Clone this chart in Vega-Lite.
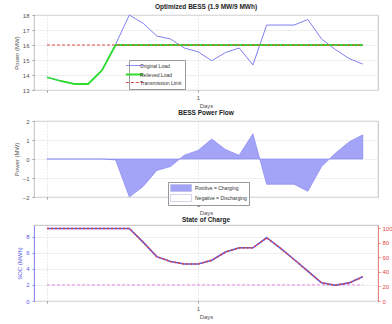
{
  "$schema": "https://vega.github.io/schema/vega-lite/v6.json",
  "background": "white",
  "padding": {"left": 12, "top": 3, "right": 0, "bottom": 0},
  "spacing": 0,
  "resolve": {"scale": {"color": "independent"}, "legend": {"color": "independent"}},
  "config": {
    "font": "Liberation Sans",
    "view": {"stroke": "#b0b0b0", "strokeWidth": 0.8},
    "axis": {
      "labelFontSize": 6, "titleFontSize": 6, "titleFontWeight": "normal",
      "labelColor": "#555555", "titleColor": "#555555", "tickColor": "#999999",
      "domain": false, "tickSize": 2, "labelPadding": 2, "titlePadding": 2,
      "labelOverlap": false, "labelBound": false, "labelFlush": false,
      "gridColor": "#e4e4e4", "gridWidth": 0.6
    },
    "axisY": {"labelPadding": 3, "titlePadding": 3},
    "title": {"fontSize": 6.5, "fontWeight": "bold", "color": "#222222", "offset": 2},
    "legend": {
      "title": null, "orient": "none", "labelFontSize": 5, "labelColor": "#333333",
      "padding": 3, "rowPadding": 1, "strokeColor": "#999999", "fillColor": "white",
      "labelOffset": 3, "symbolSize": 300, "symbolStrokeWidth": 1
    }
  },
  "datasets": {
    "hourly": [
      {"hour": 0, "original": 13.85, "relieved": 13.85, "limit": 16, "power": 0, "soc": 9, "socPct": 100, "socMin": 2},
      {"hour": 1, "original": 13.6, "relieved": 13.6, "limit": 16, "power": 0, "soc": 9, "socPct": 100, "socMin": 2},
      {"hour": 2, "original": 13.4, "relieved": 13.4, "limit": 16, "power": 0, "soc": 9, "socPct": 100, "socMin": 2},
      {"hour": 3, "original": 13.4, "relieved": 13.4, "limit": 16, "power": 0, "soc": 9, "socPct": 100, "socMin": 2},
      {"hour": 4, "original": 14.3, "relieved": 14.3, "limit": 16, "power": 0, "soc": 9, "socPct": 100, "socMin": 2},
      {"hour": 5, "original": 16.05, "relieved": 16, "limit": 16, "power": -0.05, "soc": 9, "socPct": 100, "socMin": 2},
      {"hour": 6, "original": 18.0, "relieved": 16, "limit": 16, "power": -2.0, "soc": 9, "socPct": 100, "socMin": 2},
      {"hour": 7, "original": 17.45, "relieved": 16, "limit": 16, "power": -1.45, "soc": 7.3, "socPct": 81.1, "socMin": 2},
      {"hour": 8, "original": 16.6, "relieved": 16, "limit": 16, "power": -0.6, "soc": 5.5, "socPct": 61.1, "socMin": 2},
      {"hour": 9, "original": 16.4, "relieved": 16, "limit": 16, "power": -0.4, "soc": 4.9, "socPct": 54.4, "socMin": 2},
      {"hour": 10, "original": 15.8, "relieved": 16, "limit": 16, "power": 0.2, "soc": 4.6, "socPct": 51.1, "socMin": 2},
      {"hour": 11, "original": 15.55, "relieved": 16, "limit": 16, "power": 0.45, "soc": 4.6, "socPct": 51.1, "socMin": 2},
      {"hour": 12, "original": 14.95, "relieved": 16, "limit": 16, "power": 1.05, "soc": 5.05, "socPct": 56.1, "socMin": 2},
      {"hour": 13, "original": 15.5, "relieved": 16, "limit": 16, "power": 0.5, "soc": 6.07, "socPct": 67.4, "socMin": 2},
      {"hour": 14, "original": 15.8, "relieved": 16, "limit": 16, "power": 0.2, "soc": 6.6, "socPct": 73.3, "socMin": 2},
      {"hour": 15, "original": 14.67, "relieved": 16, "limit": 16, "power": 1.33, "soc": 6.6, "socPct": 73.3, "socMin": 2},
      {"hour": 16, "original": 17.33, "relieved": 16, "limit": 16, "power": -1.33, "soc": 7.85, "socPct": 87.2, "socMin": 2},
      {"hour": 17, "original": 17.33, "relieved": 16, "limit": 16, "power": -1.33, "soc": 6.55, "socPct": 72.8, "socMin": 2},
      {"hour": 18, "original": 17.33, "relieved": 16, "limit": 16, "power": -1.33, "soc": 5.15, "socPct": 57.2, "socMin": 2},
      {"hour": 19, "original": 17.7, "relieved": 16, "limit": 16, "power": -1.7, "soc": 3.7, "socPct": 41.1, "socMin": 2},
      {"hour": 20, "original": 16.4, "relieved": 16, "limit": 16, "power": -0.4, "soc": 2.25, "socPct": 25.0, "socMin": 2},
      {"hour": 21, "original": 15.7, "relieved": 16, "limit": 16, "power": 0.3, "soc": 1.95, "socPct": 21.7, "socMin": 2},
      {"hour": 22, "original": 15.1, "relieved": 16, "limit": 16, "power": 0.9, "soc": 2.25, "socPct": 25.0, "socMin": 2},
      {"hour": 23, "original": 14.73, "relieved": 16, "limit": 16, "power": 1.27, "soc": 3.0, "socPct": 33.3, "socMin": 2}
    ]
  },
  "vconcat": [
    {
      "title": "Optimized BESS (1.9 MW/9 MWh)",
      "width": 344,
      "height": 75,
      "data": {"name": "hourly"},
      "encoding": {
        "x": {
          "field": "hour", "type": "quantitative",
          "scale": {"domain": [-0.944, 24.11], "nice": false, "zero": false},
          "axis": {"values": [0, 11], "tickCount": 10, "labelExpr": "datum.value == 11 ? '1' : ''", "title": "Days", "gridDash": [1, 2], "gridColor": "#bbbbbb"}
        }
      },
      "layer": [
        {
          "mark": {"type": "line", "strokeWidth": 1},
          "encoding": {
            "y": {
              "field": "original", "type": "quantitative",
              "scale": {"domain": [13, 18], "nice": false, "zero": false},
              "axis": {"values": [13, 14, 15, 16, 17, 18], "tickCount": 10, "format": "d", "title": "Power (MW)"}
            },
            "color": {
              "datum": "Original Load",
              "scale": {"domain": ["Original Load", "Relieved Load", "Transmission Limit"], "range": ["#7f7ff2", "#2fdc2f", "#e24a4a"]},
              "legend": {
                "legendX": 95, "legendY": 45, "symbolType": "stroke",
                "encode": {
                  "symbols": {
                    "update": {
                      "strokeDash": {"signal": "datum.value === 'Transmission Limit' ? [3, 2] : [1, 0]"},
                      "strokeWidth": {"signal": "datum.value === 'Relieved Load' ? 1.8 : 1"}
                    }
                  }
                }
              }
            }
          }
        },
        {
          "mark": {"type": "line", "strokeWidth": 1.8},
          "encoding": {
            "y": {"field": "relieved", "type": "quantitative"},
            "color": {"datum": "Relieved Load"}
          }
        },
        {
          "mark": {"type": "line", "strokeWidth": 1.2, "strokeDash": [3, 2]},
          "encoding": {
            "y": {"field": "limit", "type": "quantitative"},
            "color": {"datum": "Transmission Limit"}
          }
        }
      ]
    },
    {
      "title": "BESS Power Flow",
      "width": 344,
      "height": 76,
      "data": {"name": "hourly"},
      "encoding": {
        "x": {
          "field": "hour", "type": "quantitative",
          "scale": {"domain": [-0.944, 24.11], "nice": false, "zero": false},
          "axis": {"values": [0, 11], "tickCount": 10, "labelExpr": "datum.value == 11 ? '1' : ''", "title": "Days", "gridDash": [1, 2], "gridColor": "#bbbbbb"}
        }
      },
      "layer": [
        {
          "mark": {"type": "area", "opacity": 1, "stroke": "#7c7cf0", "strokeWidth": 0.6},
          "encoding": {
            "y": {
              "field": "power", "type": "quantitative",
              "scale": {"domain": [-2, 2], "nice": false},
              "axis": {"values": [-2, -1, 0, 1, 2], "tickCount": 10, "format": "d", "title": "Power (MW)"}
            },
            "color": {
              "datum": "Positive = Charging",
              "scale": {"domain": ["Positive = Charging", "Negative = Discharging"], "range": ["#a3a3f7", "#ffffff"]},
              "legend": {
                "legendX": 134, "legendY": 61, "symbolSize": 49,
                "symbolType": "M-1,-1H5V1H-1Z", "labelOffset": 17, "rowPadding": 0, "padding": 2,
                "symbolStrokeWidth": 0.6, "symbolStrokeColor": "#b8b8e0"
              }
            }
          }
        },
        {
          "mark": {"type": "rule", "strokeWidth": 0.8, "color": "#9a9ac8"},
          "encoding": {
            "y": {"datum": 0}
          }
        }
      ]
    },
    {
      "title": "State of Charge",
      "width": 344,
      "height": 76,
      "data": {"name": "hourly"},
      "encoding": {
        "x": {
          "field": "hour", "type": "quantitative",
          "scale": {"domain": [-0.944, 24.11], "nice": false, "zero": false},
          "axis": {"values": [0, 11], "tickCount": 10, "labelExpr": "datum.value == 11 ? '1' : ''", "title": "Days", "gridDash": [1, 2], "gridColor": "#bbbbbb"}
        }
      },
      "layer": [
        {
          "layer": [
            {
              "mark": {"type": "line", "color": "#e68ae6", "strokeDash": [3, 2], "strokeWidth": 1},
              "encoding": {
                "y": {
                  "field": "socMin", "type": "quantitative",
                  "scale": {"domain": [0, 9.43], "nice": false},
                  "axis": {
                    "values": [0, 2, 4, 6, 8], "tickCount": 10, "title": "SOC (MWh)",
                    "labelColor": "#5a5ae8", "titleColor": "#5a5ae8",
                    "domain": true, "domainColor": "#8a8af0", "tickColor": "#8a8af0"
                  }
                }
              }
            },
            {
              "mark": {"type": "line", "color": "#5a5ae8", "strokeWidth": 1.6},
              "encoding": {"y": {"field": "soc", "type": "quantitative"}}
            }
          ]
        },
        {
          "mark": {"type": "line", "color": "#e04848", "strokeDash": [2, 2], "strokeWidth": 1.6},
          "encoding": {
            "y": {
              "field": "socPct", "type": "quantitative",
              "scale": {"domain": [0, 104.8], "nice": false},
              "axis": {
                "orient": "right", "values": [0, 20, 40, 60, 80, 100], "tickCount": 10, "title": null, "grid": false,
                "labelPadding": 2,
                "labelColor": "#e04848", "domain": true, "domainColor": "#e88080", "tickColor": "#e88080"
              }
            }
          }
        }
      ],
      "resolve": {"scale": {"y": "independent"}}
    }
  ]
}
